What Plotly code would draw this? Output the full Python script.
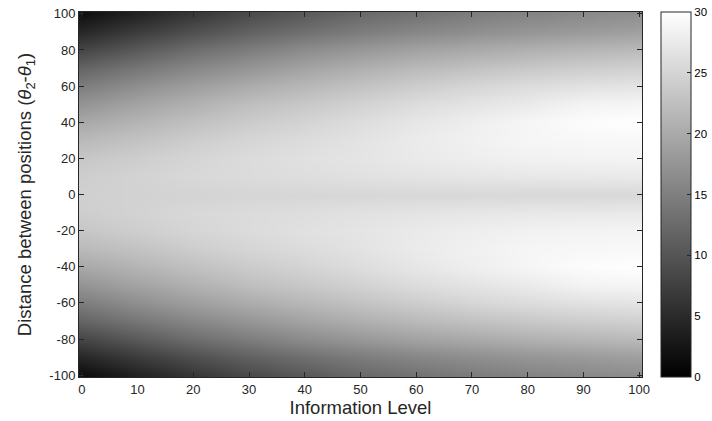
import plotly.graph_objects as go

# Information level (x) sample points
INFO_LEVEL = [0, 10, 20, 30, 40, 50, 60, 70, 80, 90, 100]
# Distance between positions (y) sample points
DISTANCE = [-100, -90, -80, -70, -60, -50, -40, -30, -20, -10, 0,
            10, 20, 30, 40, 50, 60, 70, 80, 90, 100]

# Values (one row per distance)
ROW_M100 = [1.5, 4.0, 6.4, 8.7, 10.5, 12.3, 13.5, 14.6, 15.4, 16.1, 16.6]
ROW_M90 = [4.6, 7.0, 9.3, 11.4, 13.1, 14.6, 15.8, 16.7, 17.5, 18.1, 18.7]
ROW_M80 = [8.2, 10.6, 12.9, 14.7, 16.5, 17.9, 19.1, 20.0, 20.8, 21.4, 21.9]
ROW_M70 = [11.8, 13.9, 15.9, 17.6, 19.2, 20.6, 21.8, 22.7, 23.5, 24.1, 24.5]
ROW_M60 = [14.7, 16.8, 18.6, 20.2, 21.6, 22.9, 24.1, 25.1, 25.9, 26.5, 26.8]
ROW_M50 = [17.4, 19.2, 20.8, 22.4, 23.5, 24.7, 25.9, 26.8, 27.6, 28.6, 28.8]
ROW_M40 = [19.8, 21.2, 22.6, 23.9, 24.9, 26.0, 27.1, 28.0, 28.9, 29.6, 30.0]
ROW_M30 = [21.8, 22.9, 24.1, 25.1, 25.9, 26.7, 27.6, 28.3, 28.9, 29.1, 29.2]
ROW_M20 = [23.3, 24.2, 25.1, 25.8, 26.4, 26.9, 27.5, 28.0, 28.4, 28.6, 28.7]
ROW_M10 = [24.2, 24.8, 25.4, 25.8, 26.1, 26.5, 26.8, 27.1, 27.3, 27.4, 27.5]
ROW_0 = [24.5, 24.7, 24.9, 25.1, 25.2, 25.3, 25.4, 25.4, 25.4, 25.4, 25.4]
ROW_P10 = [24.2, 24.8, 25.4, 25.8, 26.1, 26.5, 26.8, 27.1, 27.3, 27.4, 27.5]
ROW_P20 = [23.3, 24.2, 25.1, 25.8, 26.4, 26.9, 27.5, 28.0, 28.4, 28.6, 28.7]
ROW_P30 = [21.8, 22.9, 24.1, 25.1, 25.9, 26.7, 27.6, 28.3, 28.9, 29.1, 29.2]
ROW_P40 = [19.8, 21.2, 22.6, 23.9, 24.9, 26.0, 27.1, 28.0, 28.9, 29.6, 30.0]
ROW_P50 = [17.4, 19.2, 20.8, 22.4, 23.5, 24.7, 25.9, 26.8, 27.6, 28.6, 28.8]
ROW_P60 = [14.7, 16.8, 18.6, 20.2, 21.6, 22.9, 24.1, 25.1, 25.9, 26.5, 26.8]
ROW_P70 = [11.8, 13.9, 15.9, 17.6, 19.2, 20.6, 21.8, 22.7, 23.5, 24.1, 24.5]
ROW_P80 = [8.2, 10.6, 12.9, 14.7, 16.5, 17.9, 19.1, 20.0, 20.8, 21.4, 21.9]
ROW_P90 = [4.7, 7.1, 9.4, 11.5, 13.2, 14.7, 15.9, 16.8, 17.6, 18.2, 18.8]
ROW_P100 = [1.8, 4.1, 6.5, 8.8, 10.6, 12.4, 13.5, 14.7, 15.5, 16.2, 16.7]

Z = [ROW_M100, ROW_M90, ROW_M80, ROW_M70, ROW_M60, ROW_M50, ROW_M40,
     ROW_M30, ROW_M20, ROW_M10, ROW_0, ROW_P10, ROW_P20, ROW_P30,
     ROW_P40, ROW_P50, ROW_P60, ROW_P70, ROW_P80, ROW_P90, ROW_P100]

X_TICKS = [0, 10, 20, 30, 40, 50, 60, 70, 80, 90, 100]
Y_TICKS = [-100, -80, -60, -40, -20, 0, 20, 40, 60, 80, 100]
Y_TICK_LABELS = ["-100", "-80", "-60", "-40", "-20", "0", "20", "40", "60", "80", "100"]
CB_TICKS = [0, 5, 10, 15, 20, 25, 30]

FONT = "Liberation Sans, Arial, Helvetica, sans-serif"
AX = "#262626"

L, R, T, B = 79, 70, 12, 44
W, H = 712, 421
plot_w = W - L - R

fig = go.Figure(go.Heatmap(
    x=INFO_LEVEL, y=DISTANCE, z=Z,
    zmin=0, zmax=30, zsmooth="best",
    colorscale=[[0, "rgb(0,0,0)"], [1, "rgb(255,255,255)"]],
    colorbar=dict(
        x=(661 - L) / plot_w, xanchor="left", xpad=0, ypad=0,
        y=0.5, yanchor="middle", len=1, lenmode="fraction",
        thickness=30, thicknessmode="pixels",
        outlinecolor=AX, outlinewidth=1,
        tickvals=CB_TICKS, ticks="inside", ticklen=4, tickcolor=AX,
        tickfont=dict(family=FONT, size=11.5, color="#000000"),
    ),
    showscale=True,
))

fig.update_layout(
    template="none",
    width=W, height=H,
    margin=dict(l=L, r=R, t=T, b=B, autoexpand=False),
    paper_bgcolor="white", plot_bgcolor="white",
    font=dict(family=FONT, color=AX),
    xaxis=dict(
        range=[-0.5, 100.5], tickvals=X_TICKS, ticks="inside", ticklen=5,
        tickcolor=AX, showline=True, linecolor=AX, linewidth=1, mirror="ticks",
        showgrid=False, zeroline=False,
        tickfont=dict(family=FONT, size=13, color=AX),
        title=dict(text="Information Level", standoff=4,
                   font=dict(family=FONT, size=18.5, color=AX)),
    ),
    yaxis=dict(
        range=[-101, 101], tickvals=Y_TICKS, ticktext=Y_TICK_LABELS,
        ticks="inside", ticklen=5,
        tickcolor=AX, showline=True, linecolor=AX, linewidth=1, mirror="ticks",
        showgrid=False, zeroline=False,
        tickfont=dict(family=FONT, size=13, color=AX),
        title=dict(text="Distance between positions (<i>θ</i><sub>2</sub>-<i>θ</i><sub>1</sub>)",
                   standoff=12, font=dict(family=FONT, size=18.5, color=AX)),
    ),
)

fig.write_html("out.html")
